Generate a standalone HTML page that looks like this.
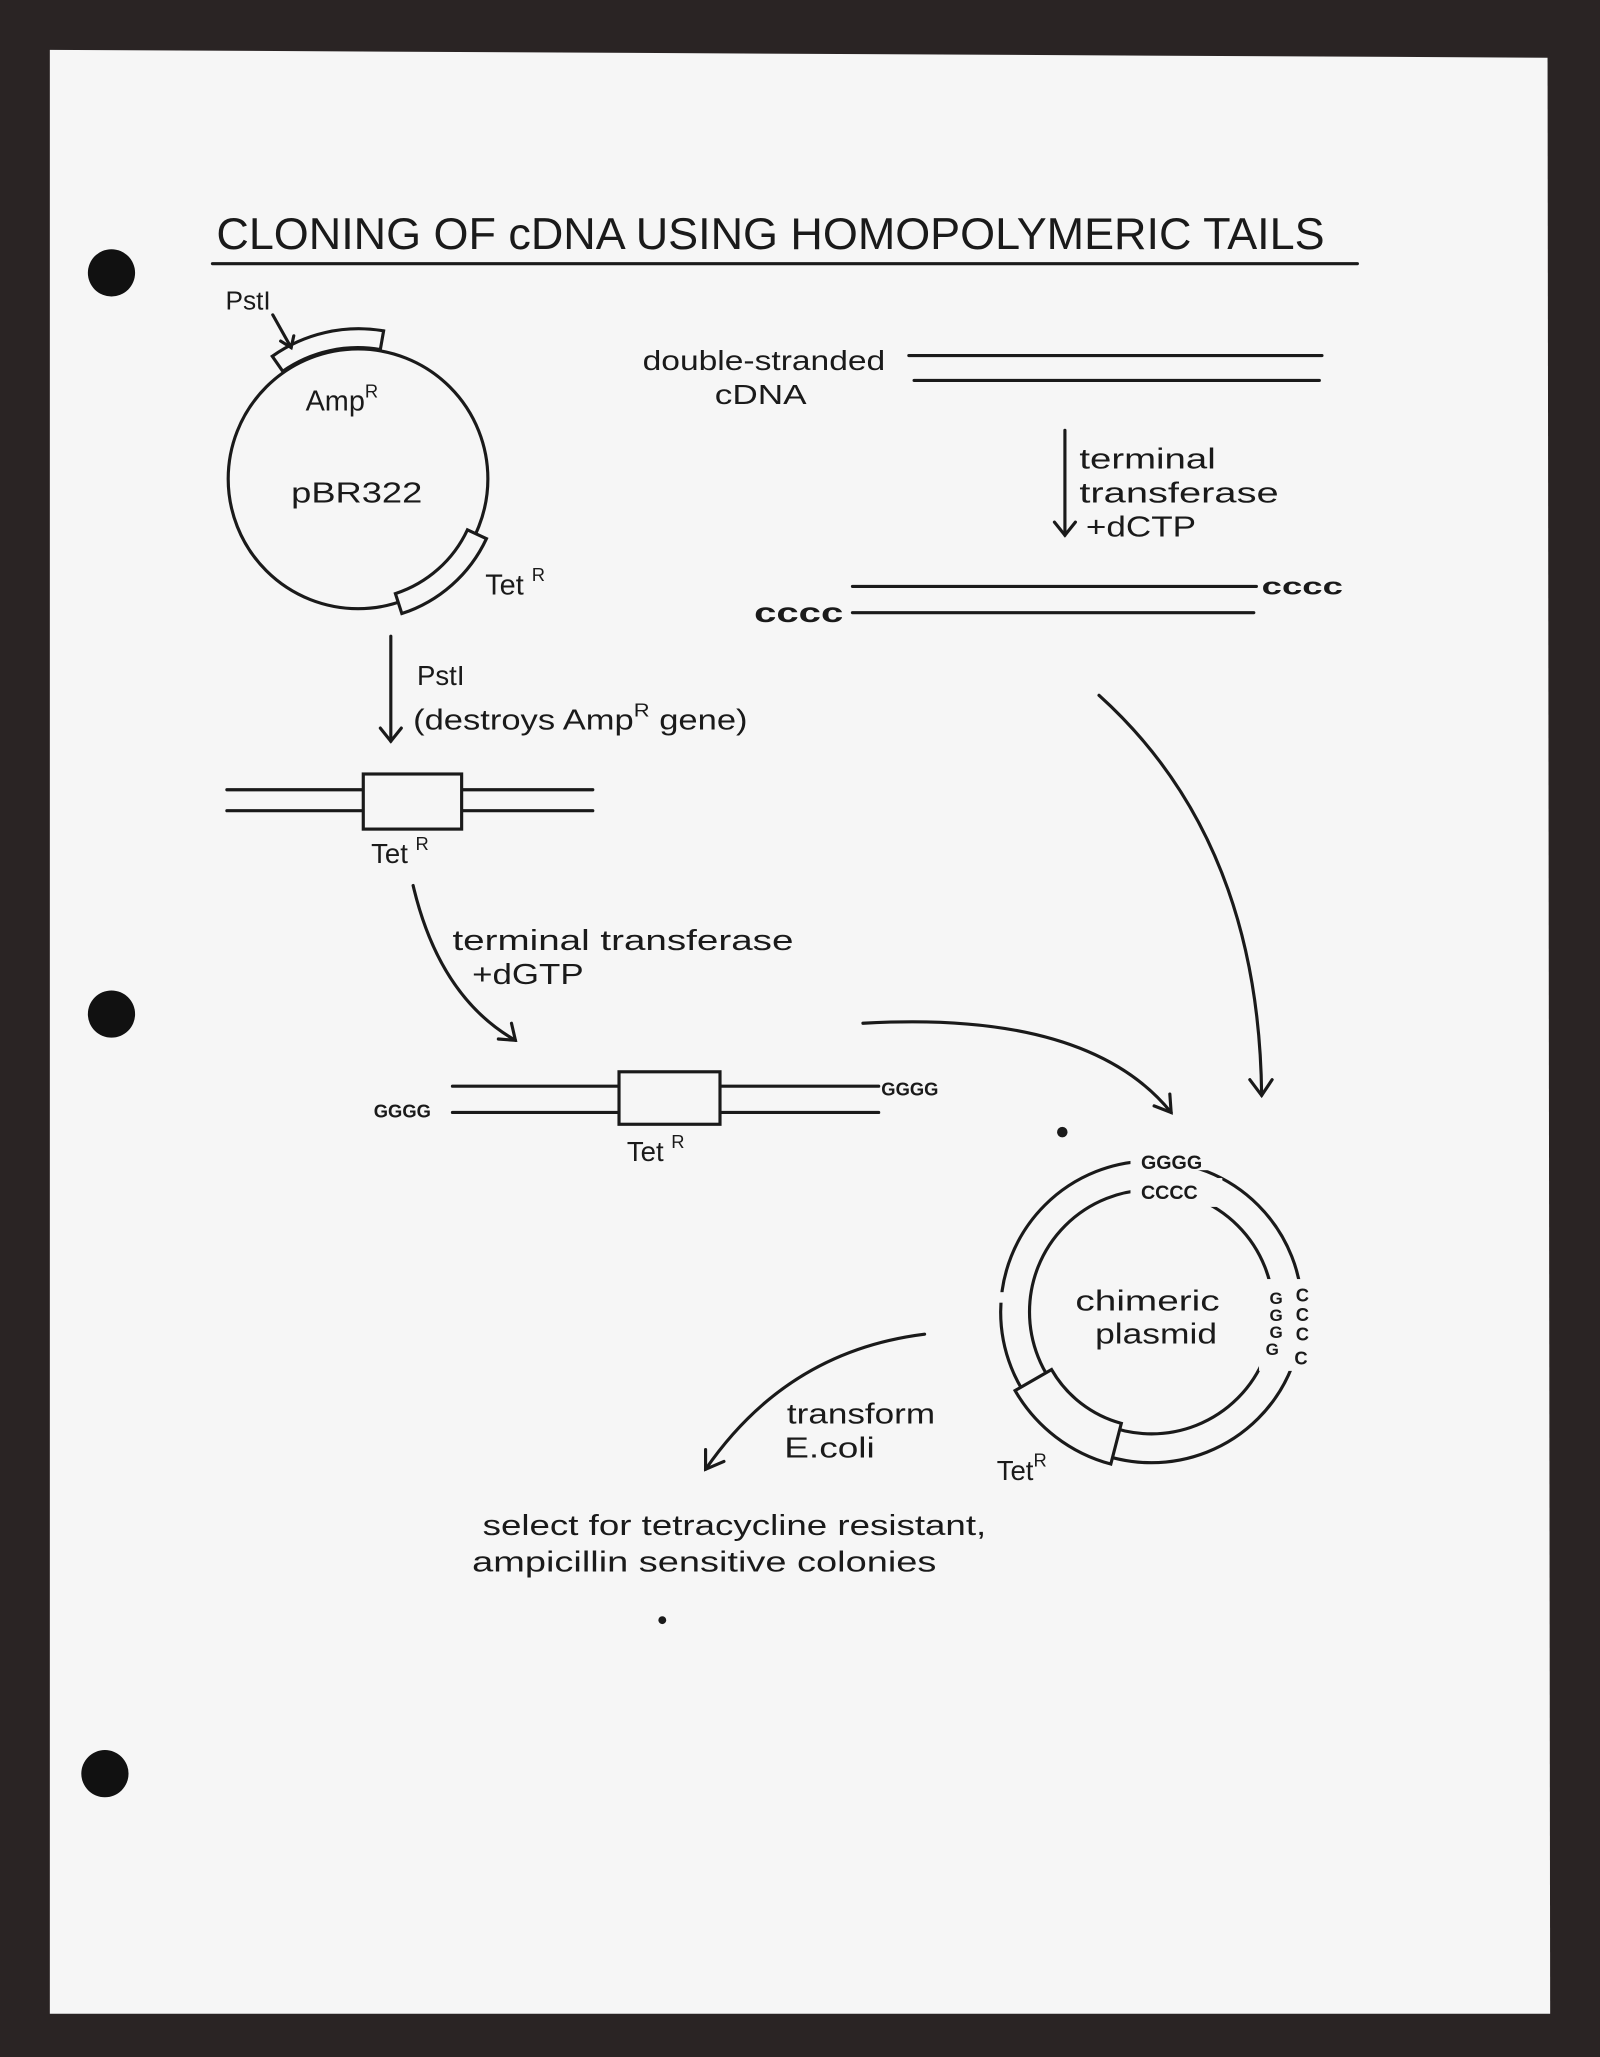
<!DOCTYPE html>
<html><head><meta charset="utf-8"><style>
html,body{margin:0;padding:0;background:#2a2424;}
svg{display:block;}
text{font-family:"Liberation Sans",sans-serif;fill:#1a1a1a;}
</style></head><body>
<svg width="1600" height="2057" viewBox="0 0 1220 1568" preserveAspectRatio="none" xmlns="http://www.w3.org/2000/svg">
<rect x="0" y="0" width="1220" height="1568" fill="#2a2424"/>
<polygon points="38,38 1180,44 1182,1535 38,1535" fill="#f6f6f6"/>
<circle cx="85" cy="208" r="18" fill="#111"/>
<circle cx="85" cy="773" r="18" fill="#111"/>
<circle cx="80" cy="1352" r="18" fill="#111"/>
<g stroke="#1a1a1a" stroke-width="2.4" fill="none" stroke-linecap="round">
<line x1="162" y1="201" x2="1035" y2="201"/>
<circle cx="273" cy="365" r="99"/>
<path d="M215.6,283 A100 100 0 0 1 290,266.5 L292.5,252.2 A114 114 0 0 0 207.6,271.6 Z" fill="#f6f6f6"/>
<path d="M370.9,410.6 A108 108 0 0 1 306.4,467.7 L301.5,452.5 A92 92 0 0 0 356.4,403.9 Z" fill="#f6f6f6"/>
<path d="M208,240 L222,265"/><path d="M214,260 L222,265 L224,256"/>
<line x1="298" y1="485" x2="298" y2="565"/><path d="M290,555 L298,565 L306,555"/>
<line x1="173" y1="602" x2="452" y2="602"/><line x1="173" y1="618" x2="452" y2="618"/>
<rect x="277" y="590" width="75" height="42" fill="#f6f6f6"/>
<path d="M315,675 Q335,760 393,793"/><path d="M380,792 L393,793 L390,780"/>
<line x1="345" y1="828" x2="670" y2="828"/><line x1="345" y1="848" x2="670" y2="848"/>
<rect x="472" y="817" width="77" height="40" fill="#f6f6f6"/>
<line x1="693" y1="271" x2="1008" y2="271"/><line x1="697" y1="290" x2="1006" y2="290"/>
<line x1="812" y1="328" x2="812" y2="408"/><path d="M804,398 L812,408 L820,398"/>
<line x1="650" y1="447" x2="958" y2="447"/><line x1="650" y1="467" x2="956" y2="467"/>
<path d="M838,530 Q960,640 962,835"/><path d="M953,823 L962,835 L970,823"/>
<path d="M658,780 Q830,770 893,848"/><path d="M880,843 L893,848 L892,834"/>
<circle cx="878" cy="1000" r="115"/>
<circle cx="878" cy="1000" r="93"/>
<path d="M705,1017 Q600,1030 538,1120"/><path d="M538,1105 L538,1120 L552,1114"/>
</g>
<rect x="862" y="874" width="74" height="18" fill="#f6f6f6"/>
<rect x="862" y="898" width="70" height="22" fill="#f6f6f6"/>
<rect x="960" y="975" width="40" height="70" fill="#f6f6f6"/>
<rect x="755" y="985" width="14" height="8" fill="#f6f6f6"/>
<path d="M774,1060 A120 120 0 0 0 847,1116 L855,1085 A88 88 0 0 1 801.8,1044 Z" fill="#f6f6f6" stroke="#1a1a1a" stroke-width="2.4"/>
<g font-size="26">
<text x="165" y="190" font-size="34" textLength="845" lengthAdjust="spacingAndGlyphs">CLONING OF cDNA USING HOMOPOLYMERIC TAILS</text>
<text x="172" y="236" font-size="20">PstI</text>
<text x="233" y="313" font-size="22">Amp<tspan font-size="14" dy="-10">R</tspan></text>
<text x="222" y="383" font-size="22" textLength="100" lengthAdjust="spacingAndGlyphs">pBR322</text>
<text x="370" y="453" font-size="22">Tet <tspan font-size="14" dy="-10">R</tspan></text>
<text x="318" y="522" font-size="21">PstI</text>
<text x="315" y="556" font-size="22" textLength="255" lengthAdjust="spacingAndGlyphs">(destroys Amp<tspan font-size="14" dy="-10">R</tspan><tspan dy="10"> gene)</tspan></text>
<text x="283" y="658" font-size="21">Tet <tspan font-size="14" dy="-10">R</tspan></text>
<text x="345" y="724" font-size="22" textLength="260" lengthAdjust="spacingAndGlyphs">terminal transferase</text>
<text x="360" y="750" font-size="22" textLength="85" lengthAdjust="spacingAndGlyphs">+dGTP</text>
<text x="672" y="835" font-size="14" font-weight="bold">GGGG</text>
<text x="285" y="852" font-size="14" font-weight="bold">GGGG</text>
<text x="478" y="885" font-size="21">Tet <tspan font-size="14" dy="-10">R</tspan></text>
<text x="490" y="282" font-size="21" textLength="185" lengthAdjust="spacingAndGlyphs">double-stranded</text>
<text x="545" y="308" font-size="21" textLength="70" lengthAdjust="spacingAndGlyphs">cDNA</text>
<text x="823" y="357" font-size="22" textLength="104" lengthAdjust="spacingAndGlyphs">terminal</text>
<text x="823" y="383" font-size="22" textLength="152" lengthAdjust="spacingAndGlyphs">transferase</text>
<text x="828" y="409" font-size="22" textLength="84" lengthAdjust="spacingAndGlyphs">+dCTP</text>
<text x="962" y="453" font-size="18" font-weight="bold" textLength="62" lengthAdjust="spacingAndGlyphs">cccc</text>
<text x="575" y="474" font-size="21" font-weight="bold" textLength="68" lengthAdjust="spacingAndGlyphs">cccc</text>
<text x="870" y="891" font-size="15" font-weight="bold">GGGG</text>
<text x="870" y="914" font-size="15" font-weight="bold">CCCC</text>
<text x="968" y="994" font-size="13" font-weight="bold">G</text>
<text x="968" y="1007" font-size="13" font-weight="bold">G</text>
<text x="968" y="1020" font-size="13" font-weight="bold">G</text>
<text x="965" y="1033" font-size="13" font-weight="bold">G</text>
<text x="988" y="992" font-size="14" font-weight="bold">C</text>
<text x="988" y="1007" font-size="14" font-weight="bold">C</text>
<text x="988" y="1022" font-size="14" font-weight="bold">C</text>
<text x="987" y="1040" font-size="14" font-weight="bold">C</text>
<text x="820" y="999" font-size="22" textLength="110" lengthAdjust="spacingAndGlyphs">chimeric</text>
<text x="835" y="1024" font-size="22" textLength="93" lengthAdjust="spacingAndGlyphs">plasmid</text>
<text x="760" y="1128" font-size="21">Tet<tspan font-size="14" dy="-10">R</tspan></text>
<text x="600" y="1085" font-size="22" textLength="113" lengthAdjust="spacingAndGlyphs">transform</text>
<text x="598" y="1111" font-size="22" textLength="69" lengthAdjust="spacingAndGlyphs">E.coli</text>
<text x="368" y="1170" font-size="22" textLength="384" lengthAdjust="spacingAndGlyphs">select for tetracycline resistant,</text>
<text x="360" y="1198" font-size="22" textLength="354" lengthAdjust="spacingAndGlyphs">ampicillin sensitive colonies</text>
</g>
<circle cx="810" cy="863" r="4" fill="#1a1a1a"/>
<circle cx="505" cy="1235" r="3" fill="#1a1a1a"/>
</svg>
</body></html>
